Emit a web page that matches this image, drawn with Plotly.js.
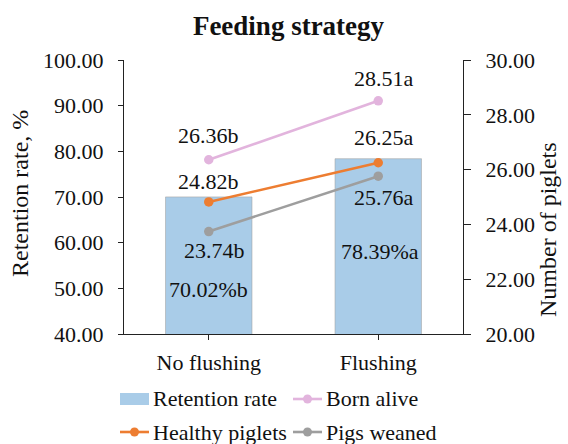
<!DOCTYPE html>
<html><head><meta charset="utf-8">
<script src="https://cdn.plot.ly/plotly-3.0.1.min.js"></script>
<style>html,body{margin:0;padding:0;background:#fff}#c{width:568px;height:444px}</style>
</head><body><div id="c"></div>
<script>
// ---- data ----
const categories = ["No flushing", "Flushing"];
const retentionRate = [70.02, 78.39];
const retentionLabels = ["70.02%b", "78.39%a"];
const bornAlive = [26.36, 28.51];
const bornAliveLabels = ["26.36b", "28.51a"];
const healthyPiglets = [24.82, 26.25];
const healthyLabels = ["24.82b", "26.25a"];
const pigsWeaned = [23.74, 25.76];
const weanedLabels = ["23.74b", "25.76a"];
const leftTicks = [40, 50, 60, 70, 80, 90, 100];
const rightTicks = [20, 22, 24, 26, 28, 30];
const seriesNames = ["Retention rate", "Born alive", "Healthy piglets", "Pigs weaned"];

// ---- style ----
const F = "Times New Roman, Liberation Serif, serif";
const C = {bar:"#A9CCE8", born:"#E2B4DD", healthy:"#ED7D31", weaned:"#9E9E9E", ink:"#111"};
const W = 568, H = 444, ML = 124, MR = 105, MT = 60, MB = 110;
const PW = W - ML - MR, PH = H - MT - MB;
const px2x = p => (p - ML) / PW;
const px2y = p => (H - MB - p) / PH;

const traces = [
  {type:"bar", name:seriesNames[0], x:categories, y:retentionRate, yaxis:"y",
   marker:{color:C.bar, line:{color:"rgba(160,160,160,0.55)", width:1}}, hoverinfo:"none"},
  {type:"scatter", mode:"lines+markers", name:seriesNames[1], x:categories, y:bornAlive, yaxis:"y2",
   line:{color:C.born, width:2.6}, marker:{color:C.born, size:9.5}},
  {type:"scatter", mode:"lines+markers", name:seriesNames[2], x:categories, y:healthyPiglets, yaxis:"y2",
   line:{color:C.healthy, width:2.6}, marker:{color:C.healthy, size:9.5}},
  {type:"scatter", mode:"lines+markers", name:seriesNames[3], x:categories, y:pigsWeaned, yaxis:"y2",
   line:{color:C.weaned, width:2.6}, marker:{color:C.weaned, size:9.5}}
];

const ann = [];
const lf = {family:F, size:22, color:C.ink};
function lab(vals, texts, yref, yshifts, xshifts){
  for(let i=0;i<categories.length;i++){
    ann.push({x:categories[i], y:vals[i], xref:"x", yref:yref, text:texts[i], showarrow:false,
      yshift:yshifts[i], xshift:xshifts[i], font:lf});
  }
}
lab(bornAlive, bornAliveLabels, "y2", [24, 22], [0, 6]);
lab(healthyPiglets, healthyLabels, "y2", [20, 25], [0, 6]);
lab(pigsWeaned, weanedLabels, "y2", [-19, -21], [6, 6]);
lab(retentionRate, retentionLabels, "y", [-93, -93], [0, 2]);

// axis titles
ann.push({xref:"paper", yref:"paper", x:px2x(20), y:px2y(194), text:"Retention rate, %", textangle:-90,
  showarrow:false, xanchor:"center", yanchor:"middle", font:{family:F, size:24, color:C.ink}});
ann.push({xref:"paper", yref:"paper", x:px2x(548), y:px2y(230), text:"Number of piglets", textangle:-90,
  showarrow:false, xanchor:"center", yanchor:"middle", font:{family:F, size:24, color:C.ink}});

// legend (custom, two rows)
const shapes = [];
const legFont = {family:F, size:22, color:C.ink};
const legItems = [
  {name:seriesNames[0], kind:"rect", color:C.bar, x0:120, row:399},
  {name:seriesNames[1], kind:"line", color:C.born, x0:293, row:399},
  {name:seriesNames[2], kind:"line", color:C.healthy, x0:120, row:432},
  {name:seriesNames[3], kind:"line", color:C.weaned, x0:293, row:432}
];
legItems.forEach(it => {
  if(it.kind === "rect"){
    shapes.push({type:"rect", xref:"paper", yref:"paper", x0:px2x(it.x0), x1:px2x(it.x0+29),
      y0:px2y(it.row+6), y1:px2y(it.row-6), fillcolor:it.color, line:{width:0}});
  } else {
    shapes.push({type:"line", xref:"paper", yref:"paper", x0:px2x(it.x0), x1:px2x(it.x0+29),
      y0:px2y(it.row), y1:px2y(it.row), line:{color:it.color, width:2.6}});
    shapes.push({type:"circle", xref:"paper", yref:"paper", x0:px2x(it.x0+10), x1:px2x(it.x0+19),
      y0:px2y(it.row+4.5), y1:px2y(it.row-4.5), fillcolor:it.color, line:{width:0}});
  }
  ann.push({xref:"paper", yref:"paper", x:px2x(it.x0+31), y:px2y(it.row), text:it.name,
    showarrow:false, xanchor:"left", yanchor:"middle", font:legFont});
});

const layout = {
  width:W, height:H,
  margin:{l:ML, r:MR, t:MT, b:MB, autoexpand:false},
  paper_bgcolor:"#fff", plot_bgcolor:"#fff",
  font:{family:F, size:22, color:C.ink},
  title:{text:"<b>Feeding strategy</b>", xref:"paper", x:px2x(288.5), xanchor:"center",
    yref:"container", y:1 - 26/H, yanchor:"middle", font:{family:F, size:27, color:C.ink}},
  bargap:0.49,
  showlegend:false,
  xaxis:{type:"category", showline:true, linecolor:"#222", linewidth:1, ticks:"outside", ticklen:5,
    tickcolor:"#222", showgrid:false, zeroline:false, tickfont:{family:F, size:22, color:C.ink},
    ticklabelstandoff:4},
  yaxis:{range:[40,100], tickvals:leftTicks, tickformat:".2f", showline:true, linecolor:"#222", linewidth:1,
    ticks:"outside", ticklen:5, tickcolor:"#222", showgrid:false, zeroline:false,
    tickfont:{family:F, size:22, color:C.ink}, ticklabelstandoff:10},
  yaxis2:{range:[20,30], tickvals:rightTicks, tickformat:".2f", overlaying:"y", side:"right", showline:true,
    linecolor:"#222", linewidth:1, ticks:"outside", ticklen:7, tickcolor:"#222", showgrid:false, zeroline:false,
    tickfont:{family:F, size:22, color:C.ink}, ticklabelstandoff:10},
  annotations:ann,
  shapes:shapes
};
Plotly.newPlot("c", traces, layout, {staticPlot:true, displayModeBar:false});
</script></body></html>
